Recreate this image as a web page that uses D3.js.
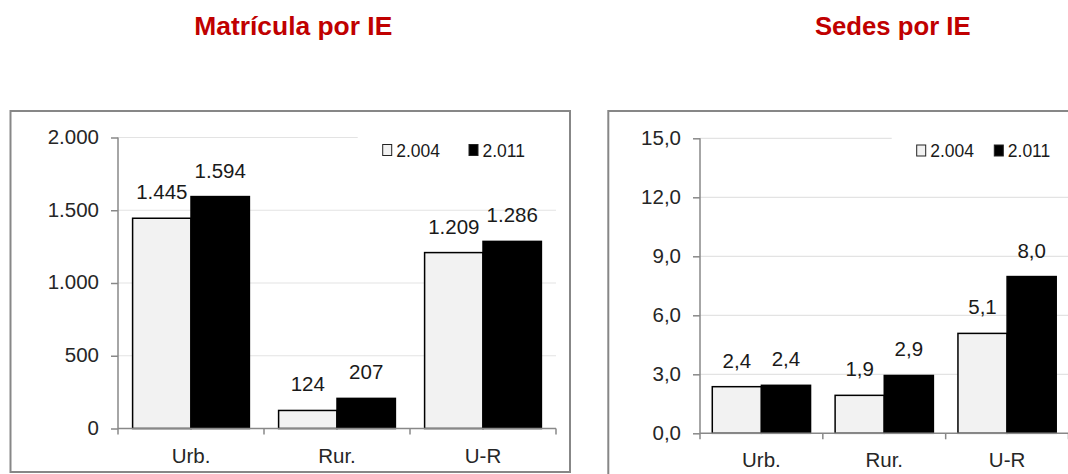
<!DOCTYPE html>
<html>
<head>
<meta charset="utf-8">
<script src="https://cdn.jsdelivr.net/npm/d3@7"></script>
<style>
  html, body { margin: 0; padding: 0; background: #fff; }
  svg { display: block; }
</style>
</head>
<body>
<svg id="chart" width="1068" height="474"></svg>
<script>
// ---- data ----
const categories = ["Urb.", "Rur.", "U-R"];
const seriesNames = ["2.004", "2.011"];
const matricula2004 = [1445, 124, 1209];
const matricula2011 = [1594, 207, 1286];
const sedes2004 = [2.37, 1.93, 5.08];
const sedes2011 = [2.44, 2.94, 7.97];
const matriculaTicks = [0, 500, 1000, 1500, 2000];
const sedesTicks = [0, 3, 6, 9, 12, 15];
const titles = ["Matrícula por IE", "Sedes por IE"];

const svg = d3.select("#chart");
const FONT = "'Liberation Sans', Arial, sans-serif";
const colors = ["#f2f2f2", "#000000"];

const loc = d3.formatLocale({decimal: ",", thousands: ".", grouping: [3], currency: ["$", ""]});
const fmtThousands = loc.format(",.0f");
const fmtOneDec = loc.format(".1f");

function drawPanel(cfg) {
  const g = svg.append("g");
  // frame
  g.append("rect")
    .attr("x", cfg.frame[0]).attr("y", cfg.frame[1])
    .attr("width", cfg.frame[2]).attr("height", cfg.frame[3])
    .attr("fill", "#fff").attr("stroke", "#878787").attr("stroke-width", 2);

  // title
  svg.append("text")
    .attr("x", cfg.titleX).attr("y", 34.5)
    .attr("text-anchor", "middle")
    .attr("font-family", FONT).attr("font-weight", "bold")
    .attr("font-size", 25).attr("fill", "#c00000")
    .attr("textLength", cfg.titleW).attr("lengthAdjust", "spacingAndGlyphs")
    .text(cfg.title);

  const x0 = d3.scaleBand().domain(categories)
    .range([cfg.x0, cfg.x1]).paddingInner(0.2).paddingOuter(0.1);
  const x1 = d3.scaleBand().domain([0, 1]).range([0, x0.bandwidth()]);
  const y = d3.scaleLinear().domain(cfg.domain).range([cfg.yBottom, cfg.yTop]);

  // gridlines
  g.selectAll("line.grid").data(cfg.ticks.filter(t => t > 0)).join("line")
    .attr("x1", cfg.x0).attr("x2", cfg.x1)
    .attr("y1", d => y(d)).attr("y2", d => y(d))
    .attr("stroke", "#e3e3e3").attr("stroke-width", 1.2);

  // legend background (covers top gridline)
  g.append("rect")
    .attr("x", cfg.legendX - 25).attr("y", y(cfg.domain[1]) - 3)
    .attr("width", cfg.x1 - cfg.legendX + 25).attr("height", 30)
    .attr("fill", "#fff");

  // bars
  const data = categories.map((c, i) => ({cat: c, vals: [cfg.s1[i], cfg.s2[i]]}));
  const grp = g.selectAll("g.cat").data(data).join("g")
    .attr("transform", d => `translate(${x0(d.cat)},0)`);
  grp.selectAll("rect").data(d => d.vals.map((v, k) => ({v, k}))).join("rect")
    .attr("x", d => x1(d.k)).attr("width", x1.bandwidth())
    .attr("y", d => y(d.v)).attr("height", d => y(0) - y(d.v))
    .attr("fill", d => colors[d.k])
    .attr("stroke", "#000").attr("stroke-width", 1.5);
  grp.selectAll("text").data(d => d.vals.map((v, k) => ({v, k}))).join("text")
    .attr("x", d => x1(d.k) + x1.bandwidth() / 2)
    .attr("y", d => y(d.v) - 19)
    .attr("text-anchor", "middle")
    .attr("font-family", FONT).attr("font-size", 20.5).attr("fill", "#1a1a1a")
    .text(d => cfg.fmt(d.v));

  // y axis
  const yAxis = d3.axisLeft(y).tickValues(cfg.ticks).tickFormat(cfg.fmt)
    .tickSize(7).tickSizeOuter(0).tickPadding(12);
  const ya = g.append("g").attr("transform", `translate(${cfg.x0},0)`).call(yAxis);
  ya.select(".domain").attr("stroke", "#888").attr("stroke-width", 1.5)
    .attr("d", `M0,${y(cfg.domain[1])}V${cfg.yBottom + 6}`);
  ya.selectAll(".tick line").attr("stroke", "#888").attr("stroke-width", 1.5);
  ya.selectAll(".tick text").attr("font-family", FONT).attr("font-size", 20.5)
    .attr("fill", "#262626").attr("dy", "0.28em");

  // x axis
  g.append("line")
    .attr("x1", cfg.x0).attr("x2", cfg.x1)
    .attr("y1", y(0)).attr("y2", y(0))
    .attr("stroke", "#888").attr("stroke-width", 1.5);
  const bounds = categories.map(c => x0(c) - x0.step() * 0.1).concat([cfg.x1]);
  g.selectAll("line.xt").data(bounds.slice(1)).join("line")
    .attr("x1", d => d).attr("x2", d => d)
    .attr("y1", y(0)).attr("y2", y(0) + 6)
    .attr("stroke", "#888").attr("stroke-width", 1.5);
  g.selectAll("text.cat").data(categories).join("text")
    .attr("x", d => x0(d) + x0.bandwidth() / 2)
    .attr("y", y(0) + 34)
    .attr("text-anchor", "middle")
    .attr("font-family", FONT).attr("font-size", 20.5).attr("fill", "#262626")
    .text(d => d);

  // legend
  const ly = cfg.legendY;
  cfg.legendPos.forEach((lx, k) => {
    g.append("rect").attr("x", lx).attr("y", ly - 5.5).attr("width", 9).attr("height", 11)
      .attr("fill", colors[k]).attr("stroke", "#222").attr("stroke-width", 1);
    g.append("text").attr("x", lx + 13.5).attr("y", ly + 6.5)
      .attr("font-family", FONT).attr("font-size", 17.5).attr("fill", "#1a1a1a")
      .text(seriesNames[k]);
  });
}

drawPanel({
  title: titles[0], titleX: 293.3, titleW: 198,
  frame: [10.5, 111, 559.5, 361],
  x0: 118, x1: 556, yTop: 137.5, yBottom: 428.5,
  domain: [0, 2000], ticks: matriculaTicks,
  s1: matricula2004, s2: matricula2011,
  fmt: fmtThousands,
  legendX: 382.7, legendY: 150, legendPos: [382.7, 469]
});

drawPanel({
  title: titles[1], titleX: 892.8, titleW: 155.7,
  frame: [608.3, 111, 480, 380],
  x0: 700, x1: 1068.5, yTop: 138.3, yBottom: 433.3,
  domain: [0, 15], ticks: sedesTicks,
  s1: sedes2004, s2: sedes2011,
  fmt: fmtOneDec,
  legendX: 916.7, legendY: 150.5, legendPos: [916.7, 994.3]
});
</script>
</body>
</html>
